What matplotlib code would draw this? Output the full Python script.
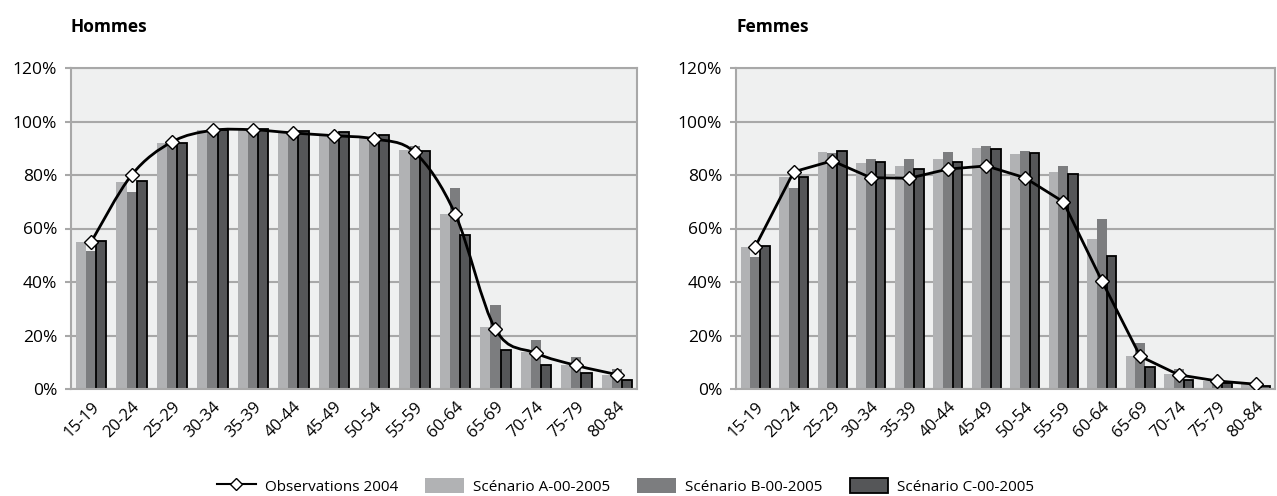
import numpy as np
import matplotlib
matplotlib.use("Agg")
import matplotlib.pyplot as plt
from matplotlib.path import Path
from matplotlib.patches import PathPatch, Patch
from matplotlib.lines import Line2D

plt.rcParams['font.family'] = ['Open Sans', 'DejaVu Sans']

ages = ["15-19", "20-24", "25-29", "30-34", "35-39", "40-44", "45-49",
        "50-54", "55-59", "60-64", "65-69", "70-74", "75-79", "80-84"]

# Hommes
h_obs = [55.0, 80.0, 92.4, 96.7, 96.9, 95.7, 94.7, 93.5, 88.5, 65.5, 22.3, 13.4, 8.8, 5.4]
h_a = [55.0, 77.5, 91.9, 96.9, 96.7, 96.2, 95.0, 94.1, 89.4, 65.5, 23.1, 13.7, 8.8, 5.4]
h_b = [51.7, 73.7, 92.0, 96.9, 97.4, 96.4, 95.6, 94.4, 90.9, 75.3, 31.5, 18.5, 11.8, 7.3]
h_c = [55.4, 77.7, 92.1, 96.9, 97.3, 96.4, 95.9, 94.8, 88.8, 57.4, 14.5, 8.8, 5.8, 3.5]

# Femmes
f_obs = [53.2, 81.2, 85.3, 79.0, 78.8, 82.2, 83.4, 79.0, 70.0, 40.5, 12.2, 5.3, 3.0, 1.8]
f_a = [53.2, 79.1, 88.7, 84.5, 83.3, 86.0, 90.1, 87.9, 81.2, 56.2, 12.5, 5.7, 2.9, 1.7]
f_b = [49.5, 75.3, 88.3, 86.0, 86.0, 88.7, 90.9, 89.0, 83.4, 63.6, 17.2, 7.3, 3.5, 1.9]
f_c = [53.3, 79.2, 89.1, 84.8, 82.3, 84.7, 89.9, 88.2, 80.3, 49.8, 8.1, 3.5, 2.3, 1.1]

labels = ["Observations 2004", "Scénario A-00-2005", "Scénario B-00-2005", "Scénario C-00-2005"]
col_a, col_b, col_c = "#b1b2b4", "#7c7d7f", "#555658"
grid_col = "#a8a8a8"


def smooth_path(x, y):
    # bezier curve through the points, like a spreadsheet "smoothed line"
    pts = np.column_stack([x, y])
    verts = [pts[0]]
    codes = [Path.MOVETO]
    n = len(pts)
    for i in range(n - 1):
        p0 = pts[max(i - 1, 0)]
        p1 = pts[i]
        p2 = pts[i + 1]
        p3 = pts[min(i + 2, n - 1)]
        c1 = p1 + (p2 - p0) / 6.0
        c2 = p2 - (p3 - p1) / 6.0
        verts += [c1, c2, p2]
        codes += [Path.CURVE4] * 3
    return Path(verts, codes)


def draw(ax, title, obs, a, b, c, smooth):
    x = np.arange(len(ages))
    w = 0.25
    ax.set_facecolor("#eff0f0")
    ax.bar(x - w, a, w, color=col_a, zorder=2)
    ax.bar(x, b, w, color=col_b, zorder=2)
    ax.bar(x + w, c, w, color=col_c, edgecolor="black", linewidth=1.3, zorder=2)
    if smooth:
        ax.add_patch(PathPatch(smooth_path(x, obs), facecolor="none", edgecolor="black",
                               linewidth=2, zorder=3))
    else:
        ax.plot(x, obs, color="black", linewidth=2, zorder=3)
    ax.plot(x, obs, linestyle="none", marker="D", markersize=7, markerfacecolor="white",
            markeredgecolor="black", markeredgewidth=1, zorder=4)
    ax.set_xlim(-0.5, len(ages) - 0.5)
    ax.set_ylim(0, 120)
    ax.set_yticks(range(0, 121, 20))
    ax.set_yticklabels([f"{v}%" for v in range(0, 121, 20)], fontsize=12.5)
    ax.yaxis.grid(True, color=grid_col, linewidth=1.5, zorder=1)
    ax.set_axisbelow(True)
    ax.set_xticks(x)
    ax.set_xticklabels(ages, rotation=45, ha="right", rotation_mode="anchor", fontsize=12)
    ax.tick_params(axis="x", length=0, pad=7)
    ax.tick_params(axis="y", length=4, color=grid_col, width=1.5, pad=6)
    for s in ax.spines.values():
        s.set_color(grid_col)
        s.set_linewidth(1.5)
    ax.text(0.0, 1.1, title, transform=ax.transAxes, fontsize=12.5, fontweight="bold",
            va="bottom", ha="left")


fig = plt.figure(figsize=(12.77, 4.96), dpi=100)
ax1 = fig.add_axes([71 / 1277, 107 / 496, 566 / 1277, 321 / 496])
ax2 = fig.add_axes([736 / 1277, 107 / 496, 539 / 1277, 321 / 496])
draw(ax1, "Hommes", h_obs, h_a, h_b, h_c, True)
draw(ax2, "Femmes", f_obs, f_a, f_b, f_c, False)

handles = [
    Line2D([], [], color="black", linewidth=1.5, marker="D", markersize=6,
           markerfacecolor="white", markeredgecolor="black"),
    Patch(facecolor=col_a),
    Patch(facecolor=col_b),
    Patch(facecolor=col_c, edgecolor="black", linewidth=1.3),
]
fig.legend(handles, labels, loc="lower center", bbox_to_anchor=(0.49, -0.025), ncol=4,
           frameon=False, fontsize=11, handlelength=2.5, handleheight=1.1,
           columnspacing=1.8, handletextpad=0.6)

fig.savefig("out.png", dpi=100)
